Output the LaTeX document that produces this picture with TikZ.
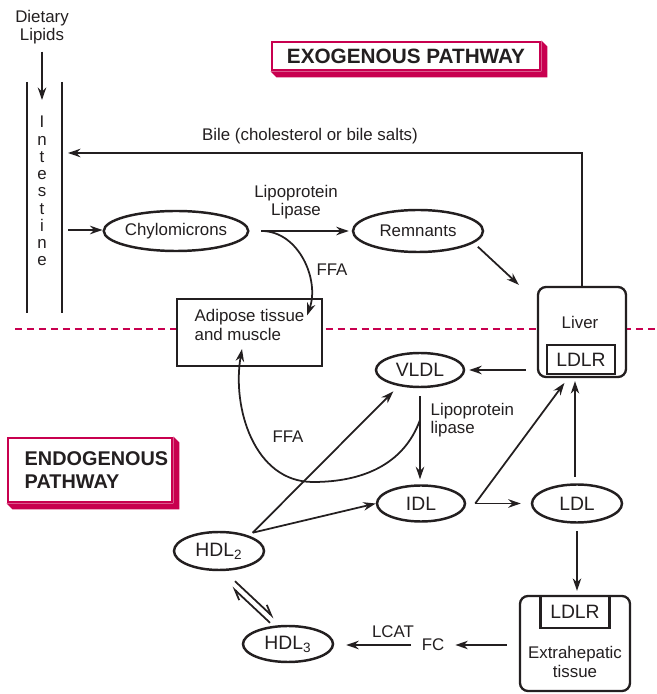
\documentclass[tikz,border=0pt]{standalone}
\usepackage{fontspec}
\setmainfont{Liberation Sans}
\usetikzlibrary{arrows.meta,shapes.geometric,backgrounds}
\definecolor{ink}{HTML}{231F20}
\definecolor{crimson}{HTML}{C8004F}

\begin{document}
\begin{tikzpicture}[
    line width=1pt, >={Stealth[length=2.5mm,width=1.7mm]},
    color=ink,
    lab/.style={font=\fontsize{9.6}{10.4}\selectfont, text=ink, inner sep=1pt},
    lp/.style={ellipse, draw=ink, line width=1.4pt, inner sep=0pt, fill=white,
               font=\fontsize{11}{13}\selectfont, text=ink},
    lpsmall/.style={lp, font=\fontsize{9.6}{11}\selectfont},
    organ/.style={draw=ink, line width=1.3pt, rounded corners=0.16cm, inner sep=0pt},
    rec/.style={draw=ink, line width=1.2pt, inner sep=0pt, font=\fontsize{11}{13}\selectfont, text=ink},
    eq/.style={-{Straight Barb[harpoon,length=2mm,width=1.8mm]}},
    title/.style={font=\fontsize{11.8}{12.8}\selectfont\bfseries, text=ink},
    titlebox/.style={title, draw=crimson, line width=1.7pt, fill=white, inner sep=0pt}]
  % fixed canvas
  \path[use as bounding box] (0,0) rectangle (13.14,13.88);

  % ================= divider between the two pathways =================
  \draw[crimson, line width=0.85pt, dash pattern=on 4pt off 2.8pt] (0.3,7.3) -- (13.1,7.3);

  % ================= titles =================
  \node[titlebox, minimum width=5.36cm, minimum height=0.56cm] (exo) at (8.12,12.76) {EXOGENOUS PATHWAY};
  \node[titlebox, minimum width=3.28cm, minimum height=1.28cm] (endo) at (1.8,4.48) {};
  \node[title, font=\fontsize{11.3}{12.6}\selectfont\bfseries, anchor=west, align=left] (endotxt)
    at (0.36,4.48) {ENDOGENOUS\\PATHWAY};
  \begin{scope}[on background layer]
    \foreach \n in {exo,endo}
      \fill[crimson] (\n.south west) -- ++(0.12,-0.12) -- ([shift={(0.12,-0.12)}]\n.south east)
        -- ([shift={(0.12,-0.12)}]\n.north east) -- (\n.north east) -- (\n.south east) -- cycle;
  \end{scope}

  % ================= intestine =================
  \node[lab, align=center] (diet) at (0.84,13.34) {Dietary\\Lipids};
  \coordinate (gutin) at (0.84,11.88);
  \draw[->, shorten <=0.1cm] (diet) -- (gutin);
  \draw[line width=1.2pt] (0.54,12.24) -- (0.54,7.62) (1.24,12.24) -- (1.24,7.62);
  \foreach \c [count=\i] in {I,n,t,e,s,t,i,n,e}
    \node[lab, anchor=base] (gut\i) at (0.84,11.32-0.345*\i+0.345) {\c};
  \coordinate (gutbile) at (1.36,10.82);
  \coordinate (gutout) at (1.36,9.28);

  % ================= boxes (white, over the divider) =================
  \node[rec, fill=white, minimum width=2.9cm, minimum height=1.34cm] (adip) at (4.99,7.23) {};
  \node[lab, align=left, anchor=north] (adiptxt) at ([yshift=-0.18cm]adip.north) {Adipose tissue\\and muscle};
  \node[organ, fill=white, minimum width=1.76cm, minimum height=1.8cm] (liver) at (11.64,7.24) {};
  \node[lab] (livertxt) at (11.6,7.44) {Liver};
  \node[rec, minimum width=1.36cm, minimum height=0.58cm] (ldlr1) at (11.62,6.69) {LDLR};
  \node[organ, fill=white, minimum width=2.2cm, minimum height=1.9cm] (extra) at (11.5,1.01) {};
  \node[rec, minimum width=1.38cm, minimum height=0.64cm, anchor=north] (ldlr2) at (extra.north) {LDLR};
  \node[lab, align=center] (extratxt) at (11.5,0.64) {Extrahepatic\\tissue};

  % ================= exogenous pathway =================
  \node[lpsmall, minimum width=2.8cm, minimum height=0.8cm] (chylo) at (3.52,9.26) {Chylomicrons};
  \node[lpsmall, minimum width=2.6cm, minimum height=0.84cm] (remn) at (8.36,9.26) {Remnants};
  \draw[->] (gutout) -- (gutout -| chylo.west);
  \coordinate (lplsplit) at ([xshift=0.24cm]chylo.east);
  \draw[->, shorten >=0.06cm] (lplsplit) -- (remn.west);
  \node[lab, align=center] (lpl1) at (5.92,9.84) {Lipoprotein\\Lipase};
  \draw[->] (lplsplit) to[out=0, in=70] ([xshift=1.15cm,yshift=-0.35cm]adip.north);
  \node[lab] (ffa1) at (6.64,8.48) {FFA};
  \draw[->] ([xshift=0.26cm]remn.south east) -- ([xshift=-0.36cm,yshift=0.02cm]liver.north west);
  \draw[->] (liver.north) |- (gutbile);
  \node[lab] (bile) at (6.2,11.16) {Bile (cholesterol or bile salts)};

  % ================= endogenous pathway =================
  \node[lp, minimum width=1.76cm, minimum height=0.68cm] (vldl) at (8.4,6.48) {VLDL};
  \node[lp, minimum width=1.76cm, minimum height=0.72cm] (idl) at (8.42,3.81) {IDL};
  \node[lp, minimum width=1.8cm, minimum height=0.76cm] (ldl) at (11.54,3.81) {LDL};
  \node[lp, minimum width=1.8cm, minimum height=0.76cm] (hdl2) at (4.38,2.86) {HDL\textsubscript{2}};
  \node[lp, minimum width=1.8cm, minimum height=0.72cm] (hdl3) at (5.76,1.0) {HDL\textsubscript{3}};
  \node[lab] (fc) at (8.66,0.98) {FC};
  \node[lab] (lcat) at (7.86,1.24) {LCAT};
  \node[lab, anchor=west, align=left] (lpl2) at (8.56,5.48) {Lipoprotein\\lipase};
  \node[lab] (ffa2) at (5.76,5.14) {FFA};

  \draw[->, shorten >=0.08cm] ([xshift=-0.22cm]liver.west |- vldl) -- (vldl.east);
  \draw[->, shorten <=0.16cm, shorten >=0.1cm] (vldl.south) -- (vldl.south |- idl.north);
  \draw[->] (vldl.south |- lpl2.west) to[out=-110, in=0] (6.26,4.24)
    to[out=180, in=-100] ([xshift=-0.15cm,yshift=0.36cm]adip.south);
  \coordinate (hdlsplit) at ([xshift=0.02cm,yshift=0.08cm]hdl2.north east);
  \draw[->, shorten >=0.15cm] (hdlsplit) -- (vldl.-143);
  \draw[->] (hdlsplit) -- (idl.west);
  \coordinate (idlsplit) at ([xshift=0.18cm]idl.east);
  \draw[->, shorten >=0.2cm] (idlsplit) -- (ldl.west);
  \draw[->, shorten >=0.12cm] (idlsplit) -- ([xshift=-0.28cm]liver.south);
  \draw[->, shorten <=0.13cm, shorten >=0.06cm] ([xshift=-0.04cm]ldl.north) -- ([xshift=-0.04cm]ldl.north |- liver.south);
  \draw[->, shorten <=0.15cm, shorten >=0.08cm] (ldl.south) -- (ldl.south |- extra.north);
  \draw[->, shorten <=0.24cm] (extra.west |- fc) -- ([xshift=0.17cm]fc.east);
  \draw[->, shorten >=0.24cm] ([xshift=-0.16cm]fc.west) -- (hdl3.east |- fc);
  % HDL2 <-> HDL3
  \draw[eq] ([xshift=0.32cm,yshift=-0.2cm]hdl2.south) -- ([xshift=-0.28cm,yshift=0.14cm]hdl3.north);
  \draw[eq] ([xshift=-0.36cm,yshift=0.04cm]hdl3.north) -- ([xshift=0.26cm,yshift=-0.32cm]hdl2.south);
\end{tikzpicture}
\end{document}
